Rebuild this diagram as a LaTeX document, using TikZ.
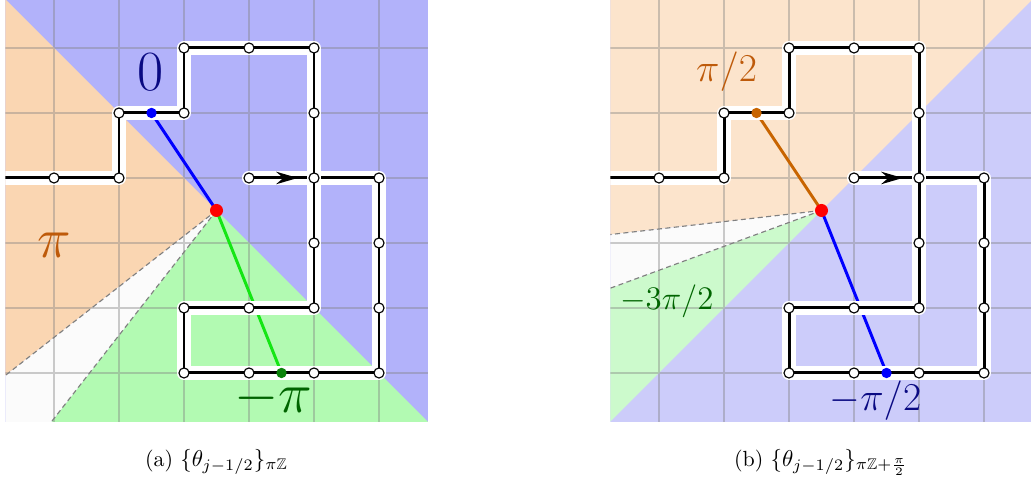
\documentclass[tikz,border=0pt]{standalone}
\usepackage{amssymb}
\usetikzlibrary{arrows.meta}

\begin{document}
\begin{tikzpicture}[every node/.style={font=\small},
    gridline/.style={gray, opacity=0.4, line width=0.6pt},
    halo/.style={white, line width=6.2pt, line cap=round, line join=round},
    walk/.style={black, line width=1.3pt, line join=round},
    site/.style={circle, draw=black, fill=white, line width=0.5pt, inner sep=0pt, minimum size=1.55mm},
    dot/.style={circle, inner sep=0pt, minimum size=1.6mm},
    ray/.style={gray, line width=0.5pt, dash pattern=on 2.2pt off 1.5pt},
    arm/.style={line width=1.3pt},
    tag/.style={inner sep=0pt},
    caption/.style={font=\fontsize{9.6}{11}\selectfont}]
		% Define colors
		\definecolor{blueA}{RGB}{178, 178, 250}
		\definecolor{orangeA}{RGB}{250, 214, 178}
		\definecolor{greenA}{RGB}{178, 250, 178}
		\definecolor{blueB}{RGB}{204, 204, 250}
		\definecolor{orangeB}{RGB}{252, 228, 204}
		\definecolor{greenB}{RGB}{204, 250, 204}
		\definecolor{wedge}{RGB}{251, 251, 251}
		\definecolor{navy}{RGB}{10, 10, 130}
		\definecolor{rust}{RGB}{190, 90, 10}
		\definecolor{darkgreen}{RGB}{0, 100, 0}
		\definecolor{lime}{RGB}{20, 230, 20}
		\definecolor{leaf}{RGB}{10, 130, 10}
		\definecolor{amber}{RGB}{200, 100, 0}
		
		\useasboundingbox (-0.831, -1.631) rectangle (15.031, 5.738);
		
		% The walk on the lattice, the same in both panels
		\def\walkpath{(3,3) -- (5,3) -- (5,0) -- (2,0) -- (2,1) -- (4,1) -- (4,5) -- (2,5) -- (2,4) -- (1,4) -- (1,3) -- (-1,3)}
		\def\sites{0/3, 1/3, 1/4, 2/4, 2/5, 3/5, 4/5, 4/4, 4/3, 4/2, 4/1, 3/1, 2/1, 2/0, 3/0, 4/0, 5/0, 5/1, 5/2, 5/3, 3/3}
		
		% LEFT PANEL (a)
		\begin{scope}
			\clip (-0.75, -0.75) rectangle (5.75, 5.75);
			\coordinate (rootA) at (2.5, 2.5);
			\coordinate (topA) at (1.5, 4);
			\coordinate (botA) at (3.5, 0);
			
			% Sectors
			\fill[blueA] (-0.75, -0.75) rectangle (5.75, 5.75);
			\fill[orangeA] (rootA) -- +(135:12) -- +(180:12) -- +(218:12) -- cycle;
			\fill[greenA] (rootA) -- +(232:12) -- +(270:12) -- +(315:12) -- cycle;
			\fill[wedge] (rootA) -- +(218:12) -- +(232:12) -- cycle;
			\draw[ray] (rootA) -- +(218:12) (rootA) -- +(232:12);
			\draw[gridline] (-0.75, -0.75) grid (5.75, 5.75);
			
			% Arms from the centre
			\draw[arm, blue] (rootA) -- (topA);
			\draw[arm, lime] (rootA) -- (botA);
			
			% Walk
			\draw[halo] \walkpath;
			\draw[walk] \walkpath;
			\draw[halo] (4, 2.4) -- (4, 3.6);
			\draw[walk] (4, 1) -- (4, 5);
			\draw[walk, -{Stealth[length=3.3mm, width=1.9mm]}] (3, 3) -- (3.75, 3);
			\foreach \x/\y in \sites {\node[site] (sa-\x-\y) at (\x, \y) {};}
			
			\node[dot, fill=blue] (dtopA) at (topA) {};
			\node[dot, fill=leaf] (dbotA) at (botA) {};
			\node[dot, fill=red, minimum size=2mm] (droot) at (rootA) {};
			
			% Labels
			\node[tag, text=navy, font=\Huge] (zeroA) at (1.48, 4.63) {$0$};
			\node[tag, text=rust, font=\Huge] (piA) at (0.0, 1.97) {$\pi$};
			\node[tag, text=darkgreen, font=\Huge] (mpiA) at (3.37, -0.39) {$-\pi$};
		\end{scope}
		
		% RIGHT PANEL (b)
		\begin{scope}[xshift=9.308cm]
			\clip (-0.75, -0.75) rectangle (5.75, 5.75);
			\coordinate (rootB) at (2.5, 2.5);
			\coordinate (topB) at (1.5, 4);
			\coordinate (botB) at (3.5, 0);
			
			% Sectors
			\fill[blueB] (-0.75, -0.75) rectangle (5.75, 5.75);
			\fill[orangeB] (rootB) -- +(45:12) -- +(90:12) -- +(135:12) -- +(186.5:12) -- cycle;
			\fill[greenB] (rootB) -- +(200.2:12) -- +(225:12) -- cycle;
			\fill[wedge] (rootB) -- +(186.5:12) -- +(200.2:12) -- cycle;
			\draw[ray] (rootB) -- +(186.5:12) (rootB) -- +(200.2:12);
			\draw[gridline] (-0.75, -0.75) grid (5.75, 5.75);
			
			% Arms from the centre
			\draw[arm, amber] (rootB) -- (topB);
			\draw[arm, blue] (rootB) -- (botB);
			
			% Walk
			\draw[halo] \walkpath;
			\draw[walk] \walkpath;
			\draw[halo] (4, 2.4) -- (4, 3.6);
			\draw[walk] (4, 1) -- (4, 5);
			\draw[walk, -{Stealth[length=3.3mm, width=1.9mm]}] (3, 3) -- (3.75, 3);
			\foreach \x/\y in \sites {\node[site] (sb-\x-\y) at (\x, \y) {};}
			
			\node[dot, fill=amber] (dtopB) at (topB) {};
			\node[dot, fill=blue] (dbotB) at (botB) {};
			\node[dot, fill=red, minimum size=2mm] (drootB) at (rootB) {};
			
			% Labels
			\node[tag, text=rust, font=\fontsize{18}{20}\selectfont] (halfB) at (1.04, 4.63) {$\pi/2$};
			\node[tag, text=darkgreen, font=\fontsize{15}{17}\selectfont] (mthreeB) at (0.12, 1.10) {$-3\pi/2$};
			\node[tag, text=navy, font=\fontsize{16}{18}\selectfont] (mhalfB) at (3.33, -0.42) {$-\pi/2$};
		\end{scope}
		
		% Captions
		\node[caption] (capA) at (2.5, -1.37) {(a) $\{\theta_{j-1/2}\}_{\pi\mathbb{Z}}$};
		\node[caption] (capB) at (11.8, -1.37) {(b) $\{\theta_{j-1/2}\}_{\pi\mathbb{Z}+\frac{\pi}{2}}$};
		
	\end{tikzpicture}
\end{document}
